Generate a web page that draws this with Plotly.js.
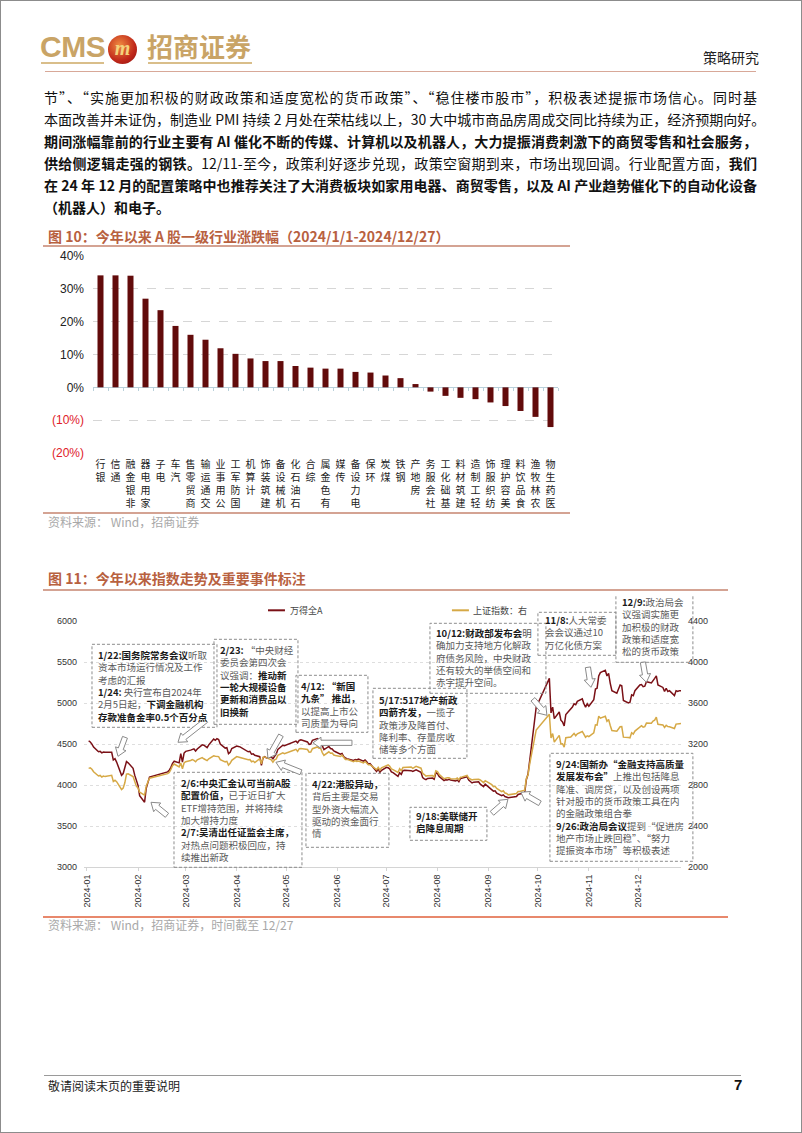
<!DOCTYPE html>
<html>
<head>
<meta charset="utf-8">
<script src="https://cdn.plot.ly/plotly-3.0.1.min.js"></script>
<style>
    body { margin: 0; width: 802px; height: 1133px; position: relative; background: #fff; overflow: hidden;
           font-family: "Noto Sans CJK SC", sans-serif; }
    .abs { position: absolute; }
    .frame { left: 0; top: 0; width: 800px; height: 1131px; border: 1px solid #8c8c8c; }
    .para { position: absolute; left: 44px; width: 713px; height: 22px; line-height: 22px; font-size: 14px; color: #111;
            text-align: justify; text-align-last: justify; white-space: nowrap; }
    .para.last { text-align-last: left; }
    .para b { font-weight: 700; }
    .fig-title { position: absolute; left: 48px; font-size: 14px; font-weight: 700; color: #b8613f; line-height: 20px; }
    .rule { position: absolute; height: 2px; background: #d4a393; }
    .source { position: absolute; left: 48px; font-size: 12px; color: #a8a8a8; line-height: 16px; }
</style>
</head>
<body>
<div class="abs frame"></div>

<!-- header -->
<div class="abs" style="left:40px; top:30px; font-family:'Liberation Sans'; font-weight:700; font-size:30px; color:#c9a466; letter-spacing:-0.5px;">CMS</div>
<div class="abs" style="left:41px; top:62px; width:63px; height:2px; background:#d9be8a;"></div>
<div class="abs" style="left:108px; top:35px; width:29px; height:29px; border-radius:50%;
     background:radial-gradient(circle at 40% 35%, #f08a40, #c0281a 60%, #8a0f0f);
     color:#f4d27c; font-family:'Liberation Serif'; font-style:italic; font-weight:700; font-size:20px; line-height:26px; text-align:center;">m</div>
<div class="abs" style="left:147px; top:29px; font-size:26px; font-weight:700; color:#c9a466; line-height:34px;">招商证券</div>
<div class="abs" style="left:148px; top:62px; width:104px; height:2px; background:#d9be8a;"></div>
<div class="abs" style="left:703px; top:47px; font-size:14px; color:#222;">策略研究</div>
<div class="abs" style="left:45px; top:71px; width:711px; height:1px; background:#d8a898;"></div>

<!-- paragraph -->
<div class="para" style="top:86px;">节”、“实施更加积极的财政政策和适度宽松的货币政策”、“稳住楼市股市”，积极表述提振市场信心。同时基</div>
<div class="para" style="top:108px;">本面改善并未证伪，制造业 PMI 持续 2 月处在荣枯线以上，30 大中城市商品房周成交同比持续为正，经济预期向好。</div>
<div class="para" style="top:130px;"><b>期间涨幅靠前的行业主要有 AI 催化不断的传媒、计算机以及机器人，大力提振消费刺激下的商贸零售和社会服务，</b></div>
<div class="para" style="top:152px;"><b>供给侧逻辑走强的钢铁。</b>12/11-至今，政策利好逐步兑现，政策空窗期到来，市场出现回调。行业配置方面，<b>我们</b></div>
<div class="para" style="top:174px;"><b>在 24 年 12 月的配置策略中也推荐关注了大消费板块如家用电器、商贸零售，以及 AI 产业趋势催化下的自动化设备</b></div>
<div class="para last" style="top:196px;"><b>（机器人）和电子。</b></div>

<!-- figure 10 -->
<div class="fig-title" style="top:226px;">图 10：今年以来 A 股一级行业涨跌幅（2024/1/1-2024/12/27）</div>
<div class="rule" style="left:43px; top:245px; width:527px;"></div>
<div id="bars" class="abs" style="left:0; top:240px;"></div>
<div class="rule" style="left:43px; top:512px; width:527px;"></div>
<div class="source" style="top:514px;">资料来源： Wind，招商证券</div>

<!-- figure 11 -->
<div class="fig-title" style="top:568px;">图 11：今年以来指数走势及重要事件标注</div>
<div class="rule" style="left:43px; top:589px; width:685px;"></div>
<div id="lines" class="abs" style="left:0; top:596px;"></div>
<div class="rule" style="left:43px; top:916px; width:685px; background:#e8886c;"></div>
<div class="source" style="top:917px;">资料来源： Wind，招商证券，时间截至 12/27</div>

<!-- footer -->
<div class="abs" style="left:44px; top:1075px; width:697px; height:1px; background:#9a9a9a;"></div>
<div class="abs" style="left:48px; top:1077px; font-size:12px; color:#222;">敬请阅读末页的重要说明</div>
<div class="abs" style="left:734px; top:1076px; font-family:'Liberation Sans'; font-weight:700; font-size:15px; color:#111;">7</div>

<script>
// ---- figure 10 data
const industries = ['银行','通信','非银金融','家用电器','电子','汽车','商贸零售','交通运输','公用事业','国防军工',
    '计算机','建筑装饰','机械设备','石油石化','综合','有色金属','传媒','电力设备','环保','煤炭','钢铁','房地产',
    '社会服务','基础化工','建筑材料','轻工制造','纺织服饰','美容护理','食品饮料','农林牧渔','医药生物'];
const returns = [34.1, 34.1, 34.0, 27.0, 23.5, 18.7, 16.0, 14.5, 11.9, 10.2,
    8.8, 8.0, 8.0, 6.5, 6.0, 5.7, 5.7, 4.7, 4.5, 3.6, 2.8, 1.0,
    -1.3, -2.6, -3.2, -3.6, -4.6, -5.7, -7.2, -9.0, -12.1];
const pctTicks = [-20, -10, 0, 10, 20, 30, 40];

// ---- figure 11 data (2024 trading days)
const tradeDays = ['01-02','01-03','01-04','01-05','01-08','01-09','01-10','01-11','01-12','01-15','01-16','01-17','01-18','01-19',
    '01-22','01-23','01-24','01-25','01-26','01-29','01-30','01-31','02-01','02-02','02-05','02-06','02-07','02-08',
    '02-19','02-20','02-21','02-22','02-23','02-26','02-27','02-28','02-29','03-01','03-04','03-05','03-06','03-07','03-08',
    '03-11','03-12','03-13','03-14','03-15','03-18','03-19','03-20','03-21','03-22','03-25','03-26','03-27','03-28','03-29',
    '04-01','04-02','04-03','04-08','04-09','04-10','04-11','04-12','04-15','04-16','04-17','04-18','04-19',
    '04-22','04-23','04-24','04-25','04-26','04-29','04-30','05-06','05-07','05-08','05-09','05-10',
    '05-13','05-14','05-15','05-16','05-17','05-20','05-21','05-22','05-23','05-24','05-27','05-28','05-29','05-30','05-31',
    '06-03','06-04','06-05','06-06','06-07','06-11','06-12','06-13','06-14','06-17','06-18','06-19','06-20','06-21',
    '06-24','06-25','06-26','06-27','06-28','07-01','07-02','07-03','07-04','07-05','07-08','07-09','07-10','07-11','07-12',
    '07-15','07-16','07-17','07-18','07-19','07-22','07-23','07-24','07-25','07-26','07-29','07-30','07-31','08-01','08-02',
    '08-05','08-06','08-07','08-08','08-09','08-12','08-13','08-14','08-15','08-16','08-19','08-20','08-21','08-22','08-23',
    '08-26','08-27','08-28','08-29','08-30','09-02','09-03','09-04','09-05','09-06','09-09','09-10','09-11','09-12','09-13',
    '09-18','09-19','09-20','09-23','09-24','09-25','09-26','09-27','09-30','10-08','10-09','10-10','10-11',
    '10-14','10-15','10-16','10-17','10-18','10-21','10-22','10-23','10-24','10-25','10-28','10-29','10-30','10-31','11-01',
    '11-04','11-05','11-06','11-07','11-08','11-11','11-12','11-13','11-14','11-15','11-18','11-19','11-20','11-21','11-22',
    '11-25','11-26','11-27','11-28','11-29','12-02','12-03','12-04','12-05','12-06','12-09','12-10','12-11','12-12','12-13',
    '12-16','12-17','12-18','12-19','12-20','12-23','12-24','12-25','12-26','12-27'];

const windAllA = [4537,4525,4498,4463,4405,4410,4392,4402,4398,4400,4398,4305,4320,4280,
    4118,4140,4200,4285,4270,4204,4120,4040,3996,3870,3790,3960,4030,4097,
    4160,4180,4215,4265,4290,4270,4383,4280,4390,4410,4425,4435,4440,4415,4440,
    4490,4485,4470,4455,4490,4560,4545,4566,4555,4500,4450,4455,4383,4400,4445,
    4475,4470,4465,4405,4410,4375,4380,4362,4345,4240,4330,4345,4330,
    4341,4320,4350,4375,4435,4485,4480,4525,4535,4515,4545,4550,
    4535,4525,4495,4500,4545,4566,4550,4545,4480,4430,4470,4445,4440,4415,4405,
    4375,4385,4345,4330,4320,4300,4310,4305,4315,4290,4305,4285,4255,4260,
    4185,4165,4200,4155,4180,4215,4210,4195,4160,4150,4105,4150,4130,4175,4180,
    4180,4175,4165,4180,4185,4155,4090,4075,4065,4080,4085,4070,4150,4140,4105,
    4055,4065,4060,4070,4060,4050,4060,4040,4080,4085,4100,4060,4040,4025,4035,
    4040,4010,3995,3980,4010,3960,3950,3925,3930,3900,3870,3880,3860,3855,3845,
    3860,3885,3890,3900,4065,4130,4290,4440,4950,5300,4880,4950,4810,
    4890,4790,4770,4720,4860,4920,4950,4990,4980,5020,5050,4990,4950,4990,4960,
    5040,5170,5180,5330,5370,5400,5330,5360,5240,5150,5120,5170,5220,5210,5030,
    5000,5010,5100,5090,5150,5220,5225,5200,5205,5260,5245,5280,5300,5330,5220,
    5190,5140,5180,5140,5150,5090,5150,5140,5150,5150];

const sseComposite = [2962,2967,2954,2929,2888,2893,2878,2887,2882,2886,2894,2834,2846,2832,
    2756,2771,2821,2906,2910,2883,2831,2789,2771,2730,2702,2789,2830,2866,
    2911,2923,2951,2988,3005,2977,3015,2958,3015,3027,3039,3048,3040,3027,3046,
    3068,3056,3044,3038,3055,3085,3080,3079,3077,3048,3026,3031,2993,3011,3041,
    3077,3075,3069,3047,3049,3027,3034,3019,3057,3007,3071,3074,3065,
    3045,3022,3045,3053,3089,3113,3105,3141,3148,3128,3154,3155,
    3148,3146,3120,3122,3154,3171,3158,3159,3116,3089,3124,3110,3111,3092,3087,
    3078,3091,3065,3049,3051,3028,3037,3029,3033,3016,3030,3018,2998,2998,
    2963,2950,2973,2946,2967,2995,2997,2982,2958,2950,2922,2959,2939,2970,2971,
    2974,2976,2963,2977,2982,2964,2915,2902,2887,2891,2892,2879,2939,2932,2905,
    2861,2867,2870,2870,2862,2858,2868,2851,2877,2879,2894,2867,2857,2849,2854,
    2856,2849,2837,2823,2842,2811,2803,2784,2788,2766,2736,2744,2722,2717,2704,
    2717,2736,2737,2749,2863,2896,3001,3088,3337,3490,3259,3302,3218,
    3284,3201,3203,3169,3262,3268,3286,3303,3280,3300,3322,3286,3266,3280,3272,
    3310,3387,3384,3471,3452,3470,3422,3439,3380,3331,3324,3346,3368,3370,3267,
    3264,3260,3310,3296,3326,3364,3379,3365,3369,3404,3403,3423,3432,3462,3392,
    3386,3361,3382,3370,3368,3351,3394,3393,3398,3400];

const seriesNames = ['万得全A', '上证指数：右'];

// event notes, one string per box, lines split by <br>
const eventNotes = [
    '<b>1/22:国务院常务会议</b>听取<br>资本市场运行情况及工作<br>考虑的汇报<br><b>1/24:</b> 央行宣布自2024年<br>2月5日起，<b>下调金融机构</b><br><b>存款准备金率0.5个百分点</b>',
    '<b>2/23:</b> “中央财经<br>委员会第四次会<br>议强调：<b>推动新</b><br><b>一轮大规模设备</b><br><b>更新和消费品以</b><br><b>旧换新</b>',
    '<b>4/12: “新国</b><br><b>九条” 推出，</b><br>以提高上市公<br>司质量为导向',
    '<b>10/12:财政部发布会</b>明<br>确加力支持地方化解政<br>府债务风险，中央财政<br>还有较大的举债空间和<br>赤字提升空间。',
    '<b>5/17:517地产新政</b><br><b>四箭齐发，</b>一揽子<br>政策涉及降首付、<br>降利率、存量房收<br>储等多个方面',
    '<b>11/8:</b>人大常委<br>会会议通过10<br>万亿化债方案',
    '<b>12/9:</b>政治局会<br>议强调实施更<br>加积极的财政<br>政策和适度宽<br>松的货币政策',
    '<b>2/6:中央汇金认可当前A股</b><br><b>配置价值，</b>已于近日扩大<br>ETF增持范围，并将持续<br>加大增持力度<br><b>2/7:吴清出任证监会主席，</b><br>对热点问题积极回应，持<br>续推出新政',
    '<b>4/22:港股异动，</b><br>背后主要是交易<br>型外资大幅流入<br>驱动的资金面行<br>情',
    '<b>9/18:美联储开</b><br><b>启降息周期</b>',
    '<b>9/24:国新办“金融支持高质量</b><br><b>发展发布会”</b>上推出包括降息<br>降准、调房贷，以及创设两项<br>针对股市的货币政策工具在内<br>的金融政策组合拳<br><b>9/26:政治局会议</b>提到“促进房<br>地产市场止跌回稳”、“努力<br>提振资本市场”等积极表述'
];

// ---- figure 10
{
    let stacked = industries.map(name => name.split('').reverse().join('<br>'));
    let tickText = pctTicks.map(v => v < 0
        ? '<span style="color:#e0202a">(' + Math.abs(v) + '%)</span>'
        : v + '%');
    // small ticks along the zero line, between categories
    let boundaries = industries.map((_, i) => i - 0.5).concat([industries.length - 0.5]);
    let y_min = pctTicks[0], y_max = pctTicks[pctTicks.length - 1];

    let traces = [
        { type: 'bar', x: industries, y: returns, marker: { color: '#620b0b' }, hoverinfo: 'skip' },
        { type: 'scatter', mode: 'lines', x: [], y: [], xaxis: 'x2', hoverinfo: 'skip' },
    ];

    let layout = {
        width: 802, height: 283,
        margin: { l: 93, r: 244, t: 16, b: 70 },
        paper_bgcolor: 'rgba(0,0,0,0)', plot_bgcolor: 'rgba(0,0,0,0)',
        bargap: 0.6,
        showlegend: false,
        xaxis: {
            type: 'category', tickvals: industries, ticktext: stacked, tickangle: 0,
            showgrid: false, ticks: '', ticklabelstandoff: 4,
            tickfont: { family: 'Noto Sans CJK SC', size: 10, color: '#222' },
        },
        xaxis2: {
            overlaying: 'x', anchor: 'free', position: (0 - y_min) / (y_max - y_min),
            range: [-0.5, industries.length - 0.5], tickvals: boundaries,
            ticks: 'outside', ticklen: 3, tickcolor: '#b9d0da', showticklabels: false,
            showgrid: false, zeroline: false, showline: false,
        },
        yaxis: {
            range: [y_min, y_max], tickvals: pctTicks, ticktext: tickText,
            gridcolor: '#d6d6d6', griddash: 'dash', gridwidth: 1,
            zeroline: true, zerolinecolor: '#b9d0da', zerolinewidth: 1,
            ticks: '', ticklabelstandoff: 8,
            tickfont: { family: 'Liberation Sans', size: 12, color: '#222' },
        },
    };

    Plotly.newPlot('bars', traces, layout, { displayModeBar: false, staticPlot: true });
}

// ---- figure 11
{
    // plot area in page pixels, used to place the note boxes, arrows and legend
    const plotLeft = 84, plotRight = 681.1, plotTop = 620.7, plotBottom = 866.7, divTop = 596;
    const plotW = plotRight - plotLeft, plotH = plotBottom - plotTop;
    let px = x => (x - plotLeft) / plotW;
    let py = y => (plotBottom - (y)) / plotH;

    const lineColors = ['#7a1016', '#d6a946'];

    // [left, top, right, bottom, text x, first line centre] in page pixels
    const noteBoxes = [
        [92, 644, 217, 727, 98, 654.3],
        [214, 639, 298, 724, 220.5, 650],
        [296, 675, 368, 732, 301.5, 685.7],
        [430, 623, 546, 693, 436, 632.7],
        [373, 688, 467, 758, 379.5, 700],
        [538, 612, 616, 655, 545, 619.3],
        [616, 591, 693, 662, 622.5, 601.7],
        [174, 772, 302, 867, 181, 782.3],
        [306, 773, 389, 847, 312, 783.3],
        [410, 807, 487, 840, 416.5, 816],
        [550, 753, 693, 861, 556.5, 763.3],
    ];
    // [tail, tip] of the hollow arrows, page pixels
    const noteArrows = [
        [[125, 737], [118, 756]],
        [[206, 720], [178, 742]],
        [[167, 815], [151, 802]],
        [[281, 735], [268, 758]],
        [[301, 772], [276, 762]],
        [[352, 742.5], [313, 742.5]],
        [[492, 813], [508, 799]],
        [[540, 803], [521, 792]],
        [[533, 699], [547, 715]],
        [[588, 667], [591, 687]],
        [[643, 662], [646.5, 682]],
    ];
    // legend sample line start / end and text x, page pixels
    const legendSpots = [[268, 285, 290], [452, 469, 473]];
    const legendY = 610;

    let arrow_path = (tail, tip) => {
        let dx = tip[0] - tail[0], dy = tip[1] - tail[1];
        let len = Math.hypot(dx, dy);
        let ux = dx / len, uy = dy / len, nx = -uy, ny = ux;
        let w = 2.6, h = 5.6, hl = 8;
        let bx = tip[0] - ux * hl, by = tip[1] - uy * hl;
        let pts = [
            [tail[0] + nx * w, tail[1] + ny * w], [bx + nx * w, by + ny * w], [bx + nx * h, by + ny * h],
            tip,
            [bx - nx * h, by - ny * h], [bx - nx * w, by - ny * w], [tail[0] - nx * w, tail[1] - ny * w],
        ];
        return 'M' + pts.map(p => px(p[0]).toFixed(5) + ',' + py(p[1]).toFixed(5)).join(' L') + ' Z';
    };

    let shapes = [], annotations = [];
    noteBoxes.forEach((box, i) => {
        shapes.push({
            type: 'rect', xref: 'paper', yref: 'paper', layer: 'above',
            x0: px(box[0]), x1: px(box[2]), y0: py(box[3]), y1: py(box[1]),
            line: { color: '#8c8c8c', width: 1, dash: '3px,2px' },
        });
        annotations.push({
            xref: 'paper', yref: 'paper', x: px(box[4]), y: py(box[5] - 7),
            xanchor: 'left', yanchor: 'top', align: 'left', showarrow: false,
            borderpad: 0, borderwidth: 0,
            text: eventNotes[i].replace(/<b>(.*?)<\/b>/g, '<b><span style="color:#1a1a1a">$1</span></b>'),
            font: { family: 'Noto Sans CJK SC', size: 9.5, color: '#5a5a5a' },
        });
    });
    for (let [tail, tip] of noteArrows)
        shapes.push({
            type: 'path', xref: 'paper', yref: 'paper', layer: 'above',
            path: arrow_path(tail, tip), fillcolor: '#fff', line: { color: '#8a8a8a', width: 1 },
        });

    // legend drawn by hand so it does not push the top margin
    legendSpots.forEach((spot, i) => {
        shapes.push({
            type: 'line', xref: 'paper', yref: 'paper',
            x0: px(spot[0]), x1: px(spot[1]), y0: py(legendY), y1: py(legendY),
            line: { color: lineColors[i], width: 2 },
        });
        annotations.push({
            xref: 'paper', yref: 'paper', x: px(spot[2]), y: py(legendY),
            xanchor: 'left', yanchor: 'middle', showarrow: false, borderpad: 0, borderwidth: 0,
            text: seriesNames[i], font: { family: 'Noto Sans CJK SC', size: 9, color: '#444' },
        });
    });

    let dates = tradeDays.map(d => '2024-' + d);
    let traces = [
        { type: 'scatter', mode: 'lines', name: seriesNames[0], x: dates, y: windAllA,
          line: { color: lineColors[0], width: 1.5 }, hoverinfo: 'skip' },
        { type: 'scatter', mode: 'lines', name: seriesNames[1], x: dates, y: sseComposite, yaxis: 'y2',
          line: { color: lineColors[1], width: 1.5 }, hoverinfo: 'skip' },
    ];

    let axisFont = { family: 'Liberation Sans', size: 9, color: '#333' };
    let layout = {
        width: 802, height: 316,
        margin: { l: plotLeft, r: 802 - plotRight, t: plotTop - divTop, b: 912 - plotBottom },
        paper_bgcolor: 'rgba(0,0,0,0)', plot_bgcolor: 'rgba(0,0,0,0)',
        showlegend: false,
        xaxis: {
            type: 'date', range: ['2023-12-30 04:20', '2024-12-27'],
            tick0: '2024-01-01', dtick: 'M1', tickformat: '%Y-%m', tickangle: -90,
            showgrid: false, showline: true, linecolor: '#d4d4d4',
            ticks: 'outside', ticklen: 3, tickcolor: '#d4d4d4', tickfont: axisFont,
        },
        yaxis: {
            range: [3000, 6000], dtick: 500, gridcolor: '#dedede', griddash: 'dot',
            zeroline: false, ticks: '', ticklabelstandoff: 6, tickfont: axisFont,
        },
        yaxis2: {
            overlaying: 'y', side: 'right', range: [2000, 4400], dtick: 400,
            showgrid: false, zeroline: false, ticks: '', ticklabelstandoff: 6, tickfont: axisFont,
        },
        shapes,
        annotations,
    };

    Plotly.newPlot('lines', traces, layout, { displayModeBar: false, staticPlot: true });
}
</script>
</body>
</html>
